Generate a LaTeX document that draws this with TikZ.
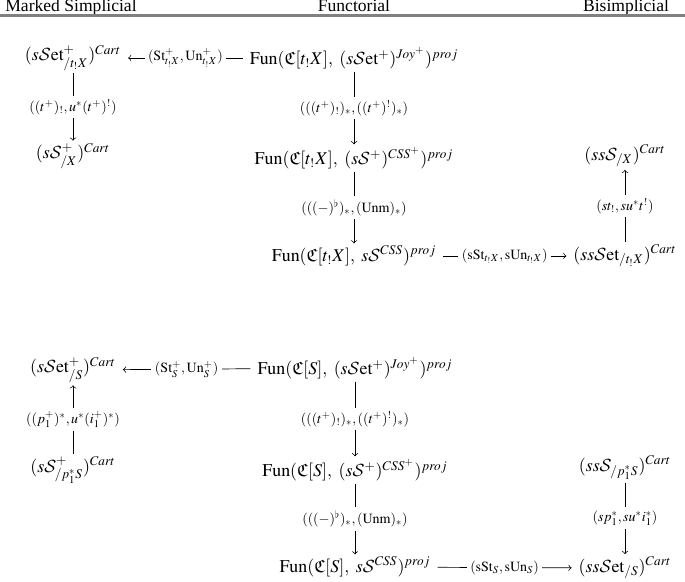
\documentclass[tikz,border=0pt]{standalone}
\usepackage{amssymb}
\usepackage{mathptmx}
\usepackage{fontspec}
\setmainfont{Liberation Serif}
\DeclareMathAlphabet{\mathcal}{OMS}{cmsy}{m}{n}
\usetikzlibrary{positioning}

\newcommand{\calS}{\mathcal{S}}
\newcommand{\CSet}{\mathcal{S}\mathrm{et}}
\newcommand{\Fun}{\mathrm{Fun}}

\begin{document}
\begin{tikzpicture}[x=0.02cm, y=-0.02cm]

      \tikzset{obj/.style={font=\fontsize{10.2}{12}\selectfont, inner xsep=3pt, inner ysep=0.5pt, outer sep=1pt},
               lbl/.style={font=\footnotesize, fill=white, inner sep=2pt},
               head/.style={anchor=base, inner sep=0pt}}
      \useasboundingbox (0,0) rectangle (685,581);
%% Header
      	\node[head] (hm) at (71,12) {Marked Simplicial};
      	\node[head] (hf) at (354,12) {Functorial};
      	\node[head] (hb) at (626,12) {Bisimplicial};
      	\coordinate (rl) at (0,15.5);
      	\coordinate (rr) at (685,15.5);
      	\draw[gray, line width=1.2pt] (rl) -- (rr);
%% Top diagram
      	\node[obj] (A) at (73,58) {$(s\CSet^{+}_{/t_!X})^{Cart}$};
      	\node[obj] (B) at (354,58) {$\Fun(\mathfrak{C}[t_!X],\ (s\CSet^{+})^{Joy^{+}})^{proj}$};
    		\node[obj] (C) at (73,156) {$(s\calS^{+}_{/X})^{Cart}$};
  	    \node[obj] (D) at (354,158) {$\Fun(\mathfrak{C}[t_!X],\ (s\calS^{+})^{CSS^{+}})^{proj}$};
     	\node[obj] (E) at (354,256) {$\Fun(\mathfrak{C}[t_!X],\ s\calS^{CSS})^{proj}$};
     	\node[obj] (F) at (625,256) {$(ss\CSet_{/t_!X})^{Cart}$};
     	\node[obj] (G) at (625,156) {$(ss\calS_{/X})^{Cart}$};
%% Bottom diagram
     	\node[obj] (H) at (73,370) {$(s\CSet^{+}_{/S})^{Cart}$};
     	\node[obj] (I) at (355,368) {$\Fun(\mathfrak{C}[S],\ (s\CSet^{+})^{Joy^{+}})^{proj}$};
     	\node[obj] (N) at (73,470) {$(s\calS^{+}_{/p_1^{*}S})^{Cart}$};
     	\node[obj] (J) at (355,470) {$\Fun(\mathfrak{C}[S],\ (s\calS^{+})^{CSS^{+}})^{proj}$};
     	\node[obj] (M) at (625,468) {$(ss\calS_{/p_1^{*}S})^{Cart}$};
     	\node[obj] (K) at (355,567) {$\Fun(\mathfrak{C}[S],\ s\calS^{CSS})^{proj}$};
     	\node[obj] (L) at (625,568) {$(ss\CSet_{/S})^{Cart}$};
%Edges
		\draw[->] (B) -- node[lbl] {$(\mathrm{St}^{+}_{t_!X},\mathrm{Un}^{+}_{t_!X})$} (A);
		\draw[->] (A) -- node[lbl] {$((t^{+})_!,u^{*}(t^{+})^!)$} (C);
		\draw[->] (B) -- node[lbl] {$(((t^{+})_!)_{*},((t^{+})^!)_{*})$} (D);
		\draw[->] (D) -- node[lbl] {$(((-)^{\flat})_{*},(\mathrm{Unm})_{*})$} (E);
		\draw[->] (E) -- node[lbl] {$(\mathrm{sSt}_{t_!X},\mathrm{sUn}_{t_!X})$} (F);
		\draw[->] (F) -- node[lbl] {$(st_!,su^{*}t^!)$} (G);
		\draw[->] (I) -- node[lbl] {$(\mathrm{St}^{+}_{S},\mathrm{Un}^{+}_{S})$} (H);
		\draw[->] (N) -- node[lbl] {$((p_1^{+})^{*},u^{*}(i_1^{+})^{*})$} (H);
		\draw[->] (I) -- node[lbl] {$(((t^{+})_!)_{*},((t^{+})^!)_{*})$} (J);
		\draw[->] (J) -- node[lbl] {$(((-)^{\flat})_{*},(\mathrm{Unm})_{*})$} (K);
		\draw[->] (K) -- node[lbl] {$(\mathrm{sSt}_{S},\mathrm{sUn}_{S})$} (L);
		\draw[->] (M) -- node[lbl] {$(sp_1^{*},su^{*}i_1^{*})$} (L);

\end{tikzpicture}
\end{document}
